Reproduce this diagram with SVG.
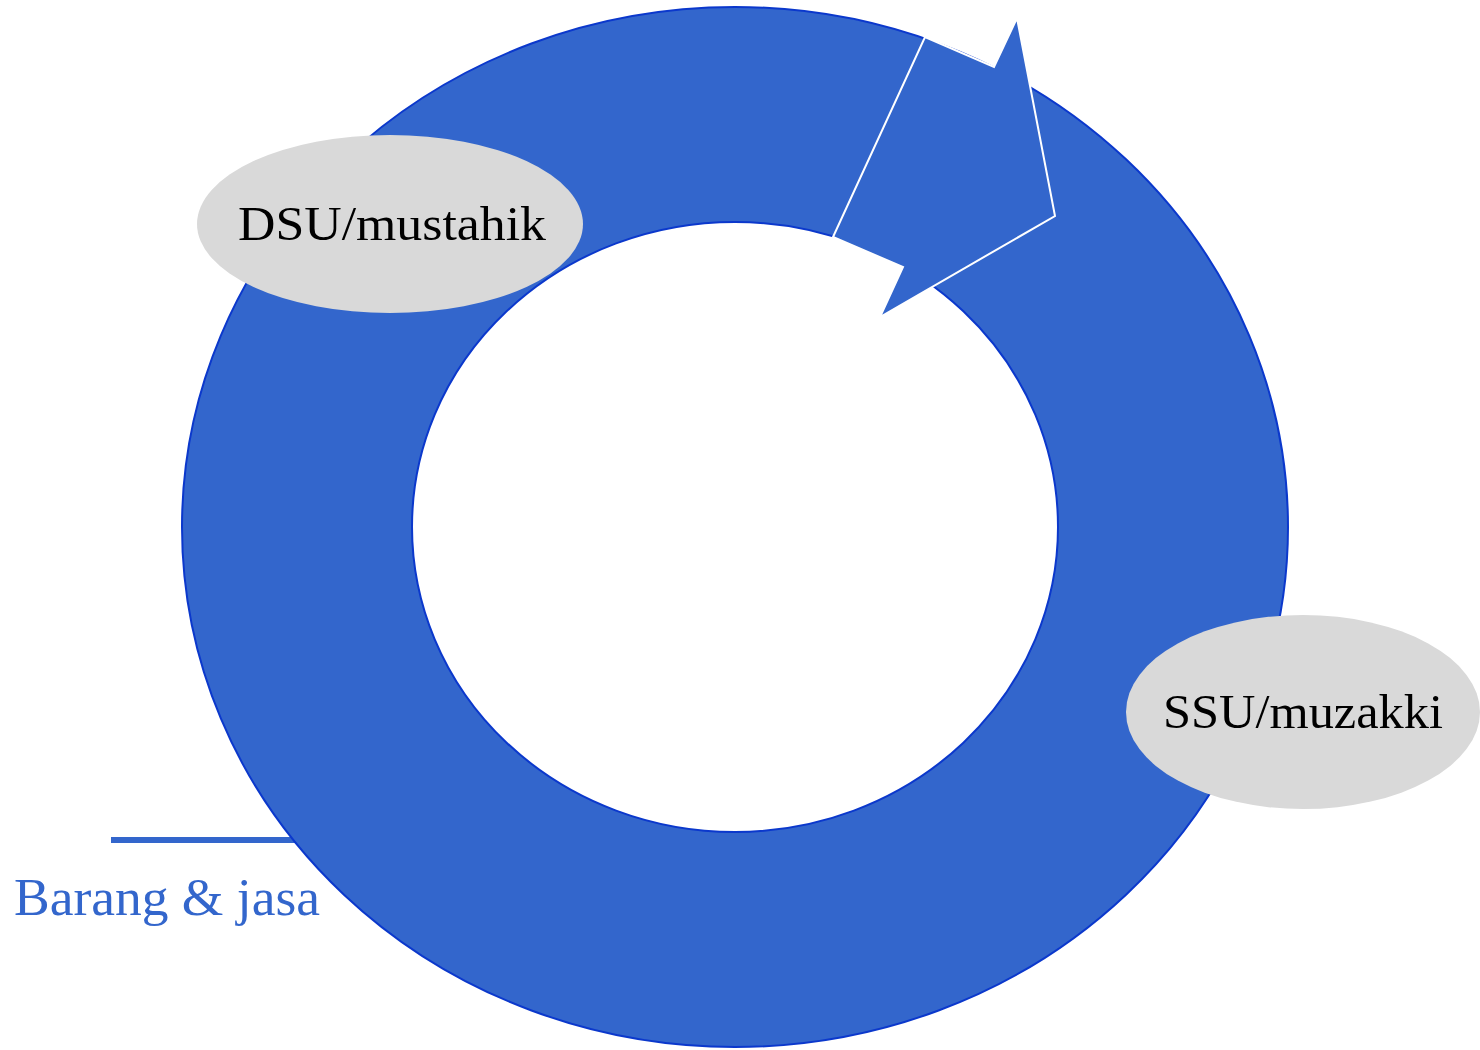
<svg xmlns="http://www.w3.org/2000/svg" width="1480" height="1050" viewBox="0 0 1480 1050">
  <style>
    .ring { fill: #3366CC; stroke: #0B38CC; stroke-width: 2; fill-rule: evenodd; }
    .flow { fill: #3366CC; stroke: #FFFFFF; stroke-width: 2; stroke-linejoin: miter; }
    .node { fill: #D9D9D9; }
    .lbl { font-family: "Liberation Serif", "Times New Roman", serif; fill: #000000; font-size: 49px; }
    .note { font-family: "Liberation Serif", "Times New Roman", serif; fill: #3366CC; font-size: 53px; }
  </style>
  <rect width="1480" height="1050" fill="#FFFFFF"/>

  <g id="connectors">
    <line x1="111" y1="840" x2="300" y2="840" stroke="#3366CC" stroke-width="6"/>
  </g>

  <!-- circular flow band -->
  <g id="cycle">
    <path class="ring" d="M182,527 A553,520 0 1,0 1288,527 A553,520 0 1,0 182,527 Z M412,527 A323,305 0 1,1 1058,527 A323,305 0 1,1 412,527 Z"/>
    <polygon class="flow" points="925,37 994,67 1017,18 1055,216 880,317 903,267 833,237"/>
  </g>

  <g id="dsu">
    <ellipse class="node" cx="390" cy="224" rx="193" ry="89"/>
    <text class="lbl" x="238" y="240" textLength="308" lengthAdjust="spacingAndGlyphs">DSU/mustahik</text>
  </g>

  <g id="ssu">
    <ellipse class="node" cx="1303" cy="712" rx="177" ry="97"/>
    <text class="lbl" x="1163" y="728" textLength="280" lengthAdjust="spacingAndGlyphs">SSU/muzakki</text>
  </g>

  <g id="barang-jasa">
    <text class="note" x="14" y="915" textLength="306" lengthAdjust="spacingAndGlyphs">Barang &amp; jasa</text>
  </g>
</svg>
